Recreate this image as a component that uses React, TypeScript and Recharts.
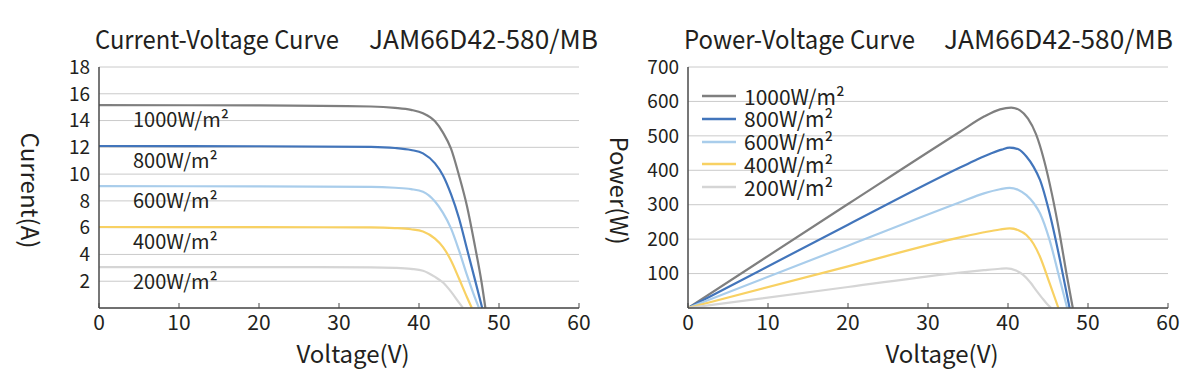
import React from "react";
import { LineChart, Line, XAxis, YAxis, CartesianGrid, Legend, LabelList } from "recharts";

const FONT = '"Noto Sans CJK SC", "Noto Sans", sans-serif';
const INK = "#231f20";
const AXIS = "#4a4a4a";
const GRID = "#cacaca";

const model = "JAM66D42-580/MB";
const irradiance = ["1000W/m²", "800W/m²", "600W/m²", "400W/m²", "200W/m²"];
const colors = ["#7f7f7f", "#4275bb", "#a9cdeb", "#f8d163", "#d5d5d5"];

const voltageTicks = [0, 10, 20, 30, 40, 50, 60];
const currentTicks = [0, 2, 4, 6, 8, 10, 12, 14, 16, 18];
const powerTicks = [0, 100, 200, 300, 400, 500, 600, 700];

// current-voltage
const ivV1000 = [0, 20, 34, 37, 39, 40.5, 42, 43, 44, 45, 46, 47, 47.8, 48.3];
const ivI1000 = [15.15, 15.13, 15.05, 14.95, 14.8, 14.55, 13.95, 13.1, 11.9, 9.9, 7.6, 4.6, 2.0, 0];
const ivV800 = [0, 20, 34, 37, 39, 40.5, 42, 43, 44, 45, 46, 47, 47.9];
const ivI800 = [12.1, 12.08, 12.03, 11.95, 11.8, 11.55, 10.8, 9.9, 8.5, 6.7, 4.4, 2.1, 0];
const ivV600 = [0, 20, 34, 37, 39, 40.5, 42, 43, 44, 45, 46, 47, 47.5];
const ivI600 = [9.1, 9.08, 9.05, 8.98, 8.88, 8.68, 7.95, 7.1, 5.95, 4.3, 2.45, 0.75, 0];
const ivV400 = [0, 20, 34, 37, 39, 40.5, 42, 43, 44, 45, 46, 46.6];
const ivI400 = [6.05, 6.04, 6.02, 5.97, 5.88, 5.72, 5.18, 4.55, 3.55, 2.2, 0.8, 0];
const ivV200 = [0, 20, 34, 37, 39, 40.5, 42, 43, 44, 45, 45.5];
const ivI200 = [3.05, 3.05, 3.04, 3.0, 2.92, 2.78, 2.32, 1.9, 1.22, 0.4, 0];

// power-voltage
const pvV1000 = [0, 20, 34, 37, 39, 40.4, 41.5, 42.5, 43.5, 44.5, 45.5, 46.5, 47.3, 48.1];
const pvP1000 = [0, 302, 512, 556, 577, 582, 574, 550, 505, 430, 330, 210, 101, 0];
const pvV800 = [0, 20, 34, 36, 38, 39.2, 40.2, 41.3, 42.3, 43.2, 44.0, 45.2, 46.5, 47.7];
const pvP800 = [0, 242, 408, 430, 450, 460, 466, 461, 440, 410, 372, 275, 139, 0];
const pvV600 = [0, 20, 34, 37, 39, 40.2, 41.3, 42.3, 43.2, 44.0, 45.2, 46.5, 47.4];
const pvP600 = [0, 181, 307, 333, 345, 349, 343, 328, 305, 275, 197, 81, 0];
const pvV400 = [0, 20, 34, 37, 39, 40.2, 41.3, 42.3, 43.2, 44.0, 45.2, 46.3];
const pvP400 = [0, 121, 205, 220, 228, 231, 226, 212, 186, 149, 72, 0];
const pvV200 = [0, 20, 34, 37, 39, 39.8, 41, 41.9, 42.8, 43.5, 44.3, 44.8, 45.4];
const pvP200 = [0, 61, 103, 110, 114, 115, 109, 96, 74, 52, 28, 14, 0];

const pts = (vs: number[], ys: number[]) => vs.map((v, k) => ({ v, y: ys[k] }));

const ivSeries = [
  pts(ivV1000, ivI1000),
  pts(ivV800, ivI800),
  pts(ivV600, ivI600),
  pts(ivV400, ivI400),
  pts(ivV200, ivI200),
].map((points, k) => ({ points, name: irradiance[k], color: colors[k] }));

const pvSeries = [
  pts(pvV1000, pvP1000),
  pts(pvV800, pvP800),
  pts(pvV600, pvP600),
  pts(pvV400, pvP400),
  pts(pvV200, pvP200),
].map((points, k) => ({ points, name: irradiance[k], color: colors[k] }));

const W = 600;
const H = 382;
const TOP = 67;
const Y_W = 99;
const X_H = 74;
const RIGHT = 21;

const XTick = (props: any) => {
  const { x, y, payload } = props;
  return (
    <g>
      <line x1={x} x2={x} y1={y} y2={y - 5} stroke={AXIS} strokeWidth={1} />
      <text x={x} y={y + 22} textAnchor="middle" fontFamily={FONT} fontSize={21} fill={INK}>
        {payload.value}
      </text>
    </g>
  );
};

const xLabel = (props: any) => {
  const vb = props.viewBox;
  return (
    <text x={vb.x + vb.width / 2 + 14} y={vb.y + 55} textAnchor="middle" fontFamily={FONT} fontSize={24} fill={INK}>
      Voltage(V)
    </text>
  );
};

const yLabel = (text: string) => (props: any) => {
  const vb = props.viewBox;
  const cx = 31;
  const cy = vb.y + vb.height / 2 + 3;
  return (
    <text
      x={cx}
      y={cy}
      transform={`rotate(90 ${cx} ${cy})`}
      textAnchor="middle"
      dominantBaseline="central"
      fontFamily={FONT}
      fontSize={24}
      fill={INK}
    >
      {text}
    </text>
  );
};

const inlineLabel = (text: string) => (props: any) => {
  if (props.index !== 0) return null;
  const x = props.x ?? props.viewBox?.x;
  const y = props.y ?? props.viewBox?.y;
  return (
    <text x={x + 34} y={y + 22} fontFamily={FONT} fontSize={20} fill={INK}>
      {text}
    </text>
  );
};

type Series = { points: { v: number; y: number }[]; name: string; color: string };

const ROW = 22.75;

const legendContent = (series: Series[]) => () => (
  <div style={{ fontFamily: FONT, fontSize: 21, color: INK }}>
    {series.map((s) => (
      <div key={s.name} style={{ display: "flex", alignItems: "center", height: ROW }}>
        <svg width={34} height={4}>
          <line x1={0} x2={34} y1={2} y2={2} stroke={s.color} strokeWidth={2.5} />
        </svg>
        <span style={{ marginLeft: 8, lineHeight: `${ROW}px`, whiteSpace: "nowrap" }}>{s.name}</span>
      </div>
    ))}
  </div>
);

function CurveChart(props: {
  series: Series[];
  yTicks: number[];
  yText: string;
  legend?: boolean;
  inline?: boolean;
}) {
  const { series, yTicks, yText, legend, inline } = props;
  const yMax = yTicks[yTicks.length - 1];
  return (
    <LineChart width={W} height={H} margin={{ top: TOP, right: RIGHT, bottom: 0, left: 0 }}>
      <CartesianGrid vertical={false} stroke={GRID} strokeWidth={1} />
      <XAxis
        dataKey="v"
        type="number"
        domain={[0, 60]}
        ticks={voltageTicks}
        interval={0}
        height={X_H}
        tickSize={0}
        tickMargin={0}
        tickLine={false}
        tick={<XTick />}
        axisLine={{ stroke: AXIS, strokeWidth: 1.5 }}
        label={{ content: xLabel }}
        allowDataOverflow
      />
      <XAxis
        xAxisId="top"
        orientation="top"
        type="number"
        domain={[0, 60]}
        height={0}
        tick={false}
        tickLine={false}
        axisLine={{ stroke: AXIS, strokeWidth: 1.5 }}
      />
      <YAxis
        type="number"
        domain={[0, yMax]}
        ticks={yTicks}
        interval={0}
        width={Y_W}
        tickSize={0}
        tickMargin={9}
        tickLine={false}
        tickFormatter={(t: number) => (t === 0 ? "" : String(t))}
        tick={{ fontFamily: FONT, fontSize: 19, fill: INK }}
        axisLine={{ stroke: AXIS, strokeWidth: 1.5 }}
        label={{ content: yLabel(yText) }}
      />
      <YAxis
        yAxisId="r"
        orientation="right"
        type="number"
        domain={[0, yMax]}
        width={0}
        tick={false}
        tickLine={false}
        axisLine={{ stroke: AXIS, strokeWidth: 1.5 }}
      />
      {legend && (
        <Legend
          layout="vertical"
          align="center"
          verticalAlign="middle"
          wrapperStyle={{ left: 113, top: 96 - ROW / 2, width: "auto" }}
          content={legendContent(series)}
        />
      )}
      {series.map((s) => (
        <Line
          key={s.name}
          data={s.points}
          dataKey="y"
          name={s.name}
          type="monotone"
          stroke={s.color}
          strokeWidth={2.2}
          dot={false}
          activeDot={false}
          isAnimationActive={false}
        >
          {inline && <LabelList content={inlineLabel(s.name)} />}
        </Line>
      ))}
    </LineChart>
  );
}

const titleStyle = { fontFamily: FONT, fontSize: 26, fill: INK };

export default function App() {
  return (
    <div style={{ position: "absolute", left: 0, top: 0, width: 1199, height: 382, background: "#fff" }}>
      <svg width={1199} height={60} style={{ position: "absolute", left: 0, top: 0 }}>
        <text x={95} y={49} style={titleStyle} textLength={244} lengthAdjust="spacingAndGlyphs">
          Current-Voltage Curve
        </text>
        <text x={369} y={49} style={titleStyle} textLength={229} lengthAdjust="spacingAndGlyphs">
          {model}
        </text>
        <text x={684} y={49} style={titleStyle} textLength={231} lengthAdjust="spacingAndGlyphs">
          Power-Voltage Curve
        </text>
        <text x={944} y={49} style={titleStyle} textLength={229} lengthAdjust="spacingAndGlyphs">
          {model}
        </text>
      </svg>
      <div style={{ position: "absolute", left: 0, top: 0 }}>
        <CurveChart series={ivSeries} yTicks={currentTicks} yText="Current(A)" inline />
      </div>
      <div style={{ position: "absolute", left: 589, top: 0 }}>
        <CurveChart series={pvSeries} yTicks={powerTicks} yText="Power(W)" legend />
      </div>
    </div>
  );
}
